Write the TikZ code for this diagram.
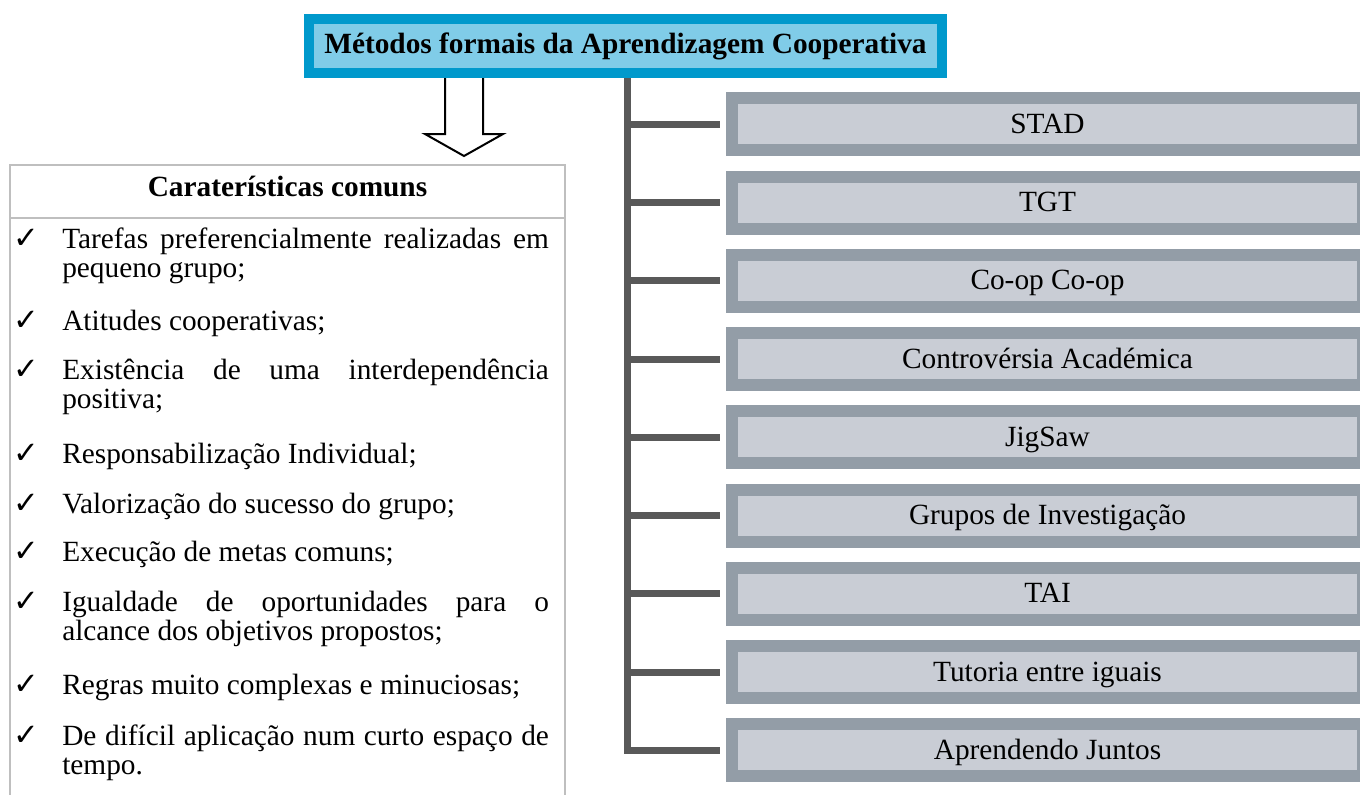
\documentclass[tikz,border=0pt]{standalone}
\usepackage{fontspec}
\setmainfont{Liberation Serif}
\newfontfamily\symfont{DejaVu Sans}
\definecolor{titleout}{HTML}{0099CC}
\definecolor{titlein}{HTML}{80CCE8}
\definecolor{boxout}{HTML}{939DA7}
\definecolor{boxin}{HTML}{C9CDD5}
\definecolor{conncol}{HTML}{595959}
\definecolor{leftborder}{HTML}{BFBFBF}
\tikzset{
  titlebox/.style={draw=titleout, fill=titlein, line width=7.5pt, minimum width=633*0.75pt, minimum height=54*0.75pt, inner sep=0pt, font=\fontsize{22}{26}\selectfont\bfseries},
  methodbox/.style={draw=boxout, fill=boxin, line width=9pt, minimum width=631*0.75pt, minimum height=52*0.75pt, inner sep=0pt},
  methodtext/.style={anchor=base, inner sep=0pt, font=\fontsize{22}{26}\selectfont},
  conn/.style={draw=conncol, line width=5.25pt},
  itemtext/.style={anchor=base west, inner sep=0pt, font=\fontsize{22}{26}\selectfont},
  tick/.style={anchor=base west, inner sep=0pt, font=\symfont\fontsize{23}{26}\selectfont},
  hdr/.style={anchor=base, inner sep=0pt, font=\fontsize{22}{26}\selectfont\bfseries},
}
\newcommand{\jline}[1]{\hbox to 365pt{#1}}
\begin{document}
\begin{tikzpicture}[x=0.75pt,y=-0.75pt]
\useasboundingbox (0,0) rectangle (1360,794);
\fill[white] (0,0) rectangle (1360,794);

% left box
\draw[leftborder, line width=1.5pt] (10,830) -- (10,165) -- (565,165) -- (565,830);
\draw[leftborder, line width=1.5pt] (10,218) -- (565,218);
\node[hdr] (hdr) at (287.5,196) {Caraterísticas comuns};

% block arrow
\draw[black, line width=1.5pt, fill=white] (445,70) -- (445,134) -- (425,134) -- (464,156) -- (503,134) -- (483,134) -- (483,70);

% title
\node[titlebox] (title) at (625.5,46) {Métodos formais da Aprendizagem Cooperativa};

% items
\foreach \y/\n in {248/t1,330/t2,379/t3,463/t4,513/t5,561/t6,611/t7,694/t8,745/t9}
  \node[tick] (\n) at (13,\y) {✓};

\node[itemtext] (l1a) at (62,248) {\jline{Tarefas preferencialmente realizadas em}};
\node[itemtext] (l1b) at (62,277) {pequeno grupo;};
\node[itemtext] (l2) at (62,330) {Atitudes cooperativas;};
\node[itemtext] (l3a) at (62,379) {\jline{Existência de uma interdependência}};
\node[itemtext] (l3b) at (62,408) {positiva;};
\node[itemtext] (l4) at (62,463) {Responsabilização Individual;};
\node[itemtext] (l5) at (62,513) {Valorização do sucesso do grupo;};
\node[itemtext] (l6) at (62,561) {Execução de metas comuns;};
\node[itemtext] (l7a) at (62,611) {\jline{Igualdade de oportunidades para o}};
\node[itemtext] (l7b) at (62,640) {alcance dos objetivos propostos;};
\node[itemtext] (l8) at (62,694) {Regras muito complexas e minuciosas;};
\node[itemtext] (l9a) at (62,745) {\jline{De difícil aplicação num curto espaço de}};
\node[itemtext] (l9b) at (62,774) {tempo.};

% method boxes
\foreach \i/\txt in {0/STAD,1/TGT,2/Co-op Co-op,3/Controvérsia Académica,4/JigSaw,5/Grupos de Investigação,6/TAI,7/Tutoria entre iguais,8/Aprendendo Juntos}{
  \pgfmathsetmacro{\cy}{124.3+78.25*\i}
  \node[methodbox] (b\i) at (1047.5,\cy) {};
  \node[methodtext] (m\i) at (1047.5,\cy+9) {\txt};
}

% connectors
\coordinate (tc) at (627,78);
\draw[conn] (tc) |- ([xshift=-4.5pt]b8.west);
\foreach \i in {0,...,7}
  \draw[conn] (b\i.west -| tc) -- ([xshift=-4.5pt]b\i.west);
\end{tikzpicture}
\end{document}
